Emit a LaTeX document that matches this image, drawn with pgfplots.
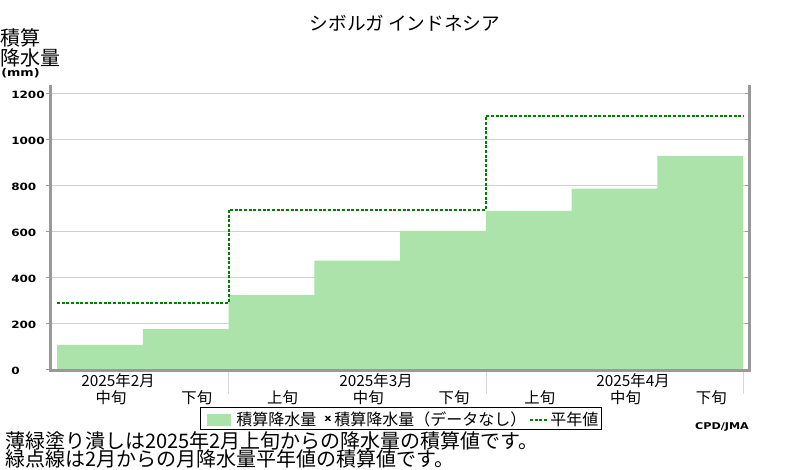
\documentclass[border=0pt]{standalone}
\usepackage{pgfplots}
\pgfplotsset{compat=1.18}
\usepackage{fontspec}
\newfontfamily\jp{Noto Sans CJK JP}
\newfontfamily\numfont[FakeStretch=1.2]{DejaVu Sans}
\definecolor{barfill}{RGB}{172,227,170}
\definecolor{normgreen}{RGB}{0,128,0}
\definecolor{framegray}{RGB}{153,153,153}
\definecolor{gridgray}{RGB}{208,208,208}
\definecolor{sepgray}{RGB}{215,215,215}
\begin{document}
\begin{tikzpicture}
\path[use as bounding box] (0,0) rectangle (600pt,352.5pt);
\begin{axis}[
  at={(38.25pt,75pt)}, anchor=south west,
  scale only axis, width=520.5pt, height=213.75pt,
  xmin=-0.07, xmax=8.023, ymin=0, ymax=1239,
  axis line style={draw=none},
  ytick={0,200,...,1200},
  ymajorgrids, grid style={gridgray, line width=0.75pt},
  tick align=outside, major tick length=3.75pt,
  ytick style={framegray, line width=0.75pt},
  xtick={0.63,1.63,2.63,3.63,4.63,5.63,6.63,7.63},
  xticklabels={中旬,下旬,上旬,中旬,下旬,上旬,中旬,下旬},
  xtick style={draw=none},
  xticklabel style={font=\jp\fontsize{11.5}{12}\selectfont, anchor=center, yshift=-17.25pt},
  yticklabel style={font=\numfont\bfseries\fontsize{7.5}{8}\selectfont, anchor=west, inner xsep=0pt, xshift=-26.25pt, yshift=-0.75pt},
  /pgf/number format/assume math mode=true,
  /pgf/number format/1000 sep={},
]
\addplot[draw=none, fill=barfill, const plot] coordinates {(0,109)(1,178)(2,326)(3,475)(4,605)(5,692)(6,788)(7,931)(8,931)} \closedcycle;
\addplot[normgreen, line width=1.5pt, dash pattern=on 2.25pt off 1.25pt, const plot] coordinates {(0,292)(2,697)(5,1104)(8,1104)};
\end{axis}
\begin{scope}[x=0.75pt,y=-0.75pt,yshift=352.5pt]
\draw[framegray, line width=2.25pt] (50.5,85) -- (50.5,371) -- (751,371);
\draw[framegray, line width=2.25pt] (749.5,85) -- (749.5,372.5);
\foreach \sx in {228,486,743} \draw[sepgray, line width=0.75pt] (\sx,372.5)--(\sx,394);
\foreach \mx/\mt in {118/2025年2月,376/2025年3月,633/2025年4月}
  \node[font=\jp\fontsize{11.5}{12}\selectfont, inner sep=0] at (\mx,381) {\mt};
\node[font=\jp\fontsize{14}{16}\selectfont] at (405,23) {シボルガ インドネシア};
\node[anchor=north west, align=left, inner sep=0, font=\jp\fontsize{15}{15}\selectfont] at (0,28) {積算\\降水量};
\node[anchor=west, inner sep=0, font=\numfont\bfseries\fontsize{8}{9}\selectfont] at (1,73) {(mm)};
\draw[black, line width=0.75pt] (200,408) rectangle (601,430);
\fill[barfill] (207,414) rectangle (231,426);
\node[anchor=west, inner sep=0, font=\jp\fontsize{12}{12}\selectfont] at (236,419.5) {積算降水量};
\node[inner sep=0, font=\numfont\bfseries\fontsize{7}{8}\selectfont] at (328,419) {x};
\node[anchor=west, inner sep=0, font=\jp\fontsize{12}{12}\selectfont] at (334,419.5) {積算降水量（データなし）};
\draw[normgreen, line width=1.5pt, dash pattern=on 2.25pt off 1.25pt] (530,420)--(547,420);
\node[anchor=west, inner sep=0, font=\jp\fontsize{12}{12}\selectfont] at (550,419.5) {平年値};
\node[anchor=west, inner sep=0, font=\jp\fontsize{15}{15}\selectfont] at (5,441) {薄緑塗り潰しは2025年2月上旬からの降水量の積算値です。};
\node[anchor=west, inner sep=0, font=\jp\fontsize{15}{15}\selectfont] at (5,459) {緑点線は2月からの月降水量平年値の積算値です。};
\node[inner sep=0, font=\numfont\bfseries\fontsize{7}{8}\selectfont] at (722,427) {CPD/JMA};
\end{scope}
\end{tikzpicture}
\end{document}
